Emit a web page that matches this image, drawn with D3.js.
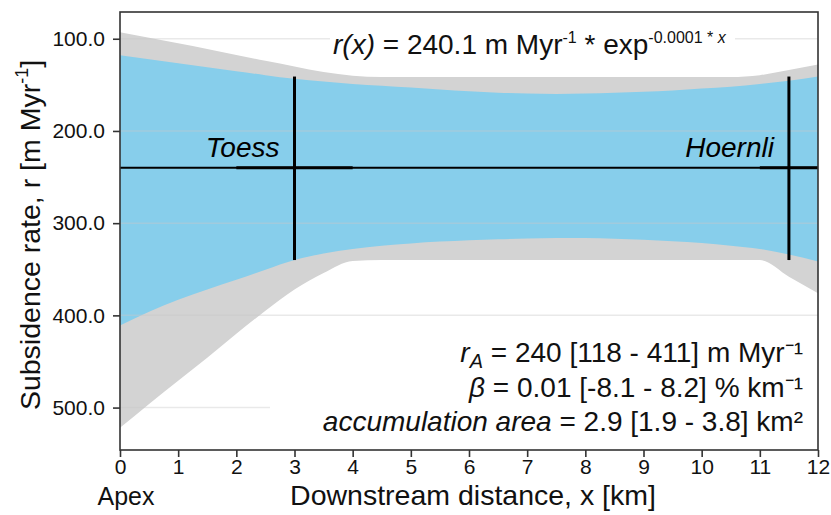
<!DOCTYPE html>
<html>
<head>
<meta charset="utf-8">
<script src="https://cdn.jsdelivr.net/npm/d3@7"></script>
<style>
  html, body { margin: 0; padding: 0; background: #fff; }
  svg { display: block; font-family: "Liberation Sans", Arial, Helvetica, sans-serif; }
</style>
</head>
<body>
<svg id="chart" width="831" height="515"></svg>
<script>
// ---- data ----
const xKm = [0,0.5,1,1.5,2,2.5,3,3.5,4,4.5,5,5.5,6,6.5,7,7.5,8,8.5,9,9.5,10,10.5,11,11.5,12];
const grayUpper = [93,99,105,111,117.5,124,130,136,140,141.5,141.5,141.5,141.5,141.5,141.5,141.5,141.5,141.5,141.5,141.5,141.5,141.5,139.5,134,128];
const grayLower = [522,496,471,446,420,395,372,354,341,340,340,340,340,340,340,340,340,340,340,340,340,340,340,358,376];
const blueUpper = [118,122.3,126.6,131,135.2,139.5,143.5,146.5,149,151,153,155,157,158.5,159.5,160,159.5,158.5,157.5,156,154,152,149,145.5,141];
const blueLower = [411,396,383,372,361.5,350.5,340,333,328,324.5,322,320,318.5,317.5,316.5,316,316,316.8,318,319.5,321.5,324.5,328,334,341.5];
const meanRate = 240;
const siteNames = ["Toess", "Hoernli"];
const siteX = [3, 11.5];
const siteRateLow = [141, 141];
const siteRateHigh = [340, 340];
const siteXLow = [2, 11];
const siteXHigh = [4, 12];
const yTicks = [100, 200, 300, 400, 500];
const xTicks = [0,1,2,3,4,5,6,7,8,9,10,11,12];

// ---- layout ----
const svg = d3.select("#chart");
const L = 120, R = 818, T = 12, B = 450;
const x = d3.scaleLinear().domain([0, 12]).range([L, R]);
const y = d3.scaleLinear().domain([71, 546]).range([T, B]);

const pts = xKm.map((d, i) => ({x: d, gu: grayUpper[i], gl: grayLower[i], bu: blueUpper[i], bl: blueLower[i]}));

svg.append("clipPath").attr("id", "plotclip")
  .append("rect").attr("x", L).attr("y", T).attr("width", R - L).attr("height", B - T);
const plot = svg.append("g").attr("clip-path", "url(#plotclip)");

plot.append("path").datum(pts)
  .attr("fill", "#d3d3d3")
  .attr("d", d3.area().x(d => x(d.x)).y0(d => y(d.gl)).y1(d => y(d.gu)).curve(d3.curveMonotoneX));
plot.append("path").datum(pts)
  .attr("fill", "#87ceeb")
  .attr("d", d3.area().x(d => x(d.x)).y0(d => y(d.bl)).y1(d => y(d.bu)).curve(d3.curveMonotoneX));

// gridlines
plot.append("g").selectAll("line").data(yTicks).join("line")
  .attr("x1", L).attr("x2", R)
  .attr("y1", d => y(d)).attr("y2", d => y(d))
  .attr("stroke", "#c8c8c8").attr("stroke-opacity", 0.4).attr("stroke-width", 1.5);

// white boxes behind annotations
plot.append("rect").attr("x", 330).attr("y", 22).attr("width", 405).attr("height", 40).attr("fill", "#fff");
plot.append("rect").attr("x", 270).attr("y", 328).attr("width", R - 270).attr("height", B - 328).attr("fill", "#fff");

// mean line
plot.append("line").attr("x1", L).attr("x2", R).attr("y1", y(meanRate)).attr("y2", y(meanRate))
  .attr("stroke", "#000").attr("stroke-width", 2);

// site error bars
siteNames.forEach((name, i) => {
  plot.append("line").attr("x1", x(siteXLow[i])).attr("x2", x(siteXHigh[i]))
    .attr("y1", y(meanRate)).attr("y2", y(meanRate))
    .attr("stroke", "#000").attr("stroke-width", 3);
  plot.append("line").attr("x1", x(siteX[i])).attr("x2", x(siteX[i]))
    .attr("y1", y(siteRateLow[i])).attr("y2", y(siteRateHigh[i]))
    .attr("stroke", "#000").attr("stroke-width", 3);
  plot.append("text").attr("x", x(siteX[i]) - 15).attr("y", 157)
    .attr("text-anchor", "end").attr("font-size", 28).attr("font-style", "italic")
    .attr("fill", "#000").text(name);
});

// frame
svg.append("rect").attr("x", L).attr("y", T).attr("width", R - L).attr("height", B - T)
  .attr("fill", "none").attr("stroke", "#333").attr("stroke-width", 1.6);

// axes
const yAxis = svg.append("g").attr("transform", `translate(${L},0)`)
  .call(d3.axisLeft(y).tickValues(yTicks).tickFormat(d3.format(".1f")).tickSize(7).tickPadding(8));
const xAxis = svg.append("g").attr("transform", `translate(0,${B})`)
  .call(d3.axisBottom(x).tickValues(xTicks).tickFormat(d3.format("d")).tickSize(7).tickPadding(2));
[yAxis, xAxis].forEach(g => {
  g.select(".domain").remove();
  g.selectAll(".tick line").attr("stroke", "#333").attr("stroke-width", 1.6);
  g.selectAll(".tick text").attr("font-size", 21).attr("fill", "#111")
    .attr("font-family", '"Liberation Sans", Arial, sans-serif');
});

// axis titles
const yt = svg.append("text").attr("transform", `translate(40,${(T + B) / 2 + 4}) rotate(-90)`)
  .attr("text-anchor", "middle").attr("font-size", 28.5).attr("fill", "#111");
yt.append("tspan").text("Subsidence rate, r [m Myr");
yt.append("tspan").attr("font-size", 18).attr("dy", -12).text("-1");
yt.append("tspan").attr("dy", 12).text("]");

svg.append("text").attr("x", 473).attr("y", 505).attr("text-anchor", "middle")
  .attr("font-size", 28.5).attr("fill", "#111").text("Downstream distance, x [km]");
svg.append("text").attr("x", 126).attr("y", 505).attr("text-anchor", "middle")
  .attr("font-size", 25).attr("fill", "#111").text("Apex");

// top formula
const f = svg.append("text").attr("x", 333).attr("y", 54).attr("font-size", 28).attr("fill", "#111");
f.append("tspan").attr("font-style", "italic").text("r(x)");
f.append("tspan").text(" = 240.1 m Myr");
f.append("tspan").attr("font-size", 16).attr("dy", -11).text("-1");
f.append("tspan").attr("dy", 11).text(" * exp");
f.append("tspan").attr("font-size", 16).attr("dy", -11).text("-0.0001 * ");
f.append("tspan").attr("font-size", 16).attr("font-style", "italic").text("x");

// bottom annotations
const ax = 803;
const a1 = svg.append("text").attr("x", ax).attr("y", 362).attr("text-anchor", "end").attr("font-size", 28).attr("fill", "#111");
a1.append("tspan").attr("font-style", "italic").text("r");
a1.append("tspan").attr("font-style", "italic").attr("font-size", 20).attr("dy", 6).text("A");
a1.append("tspan").attr("dy", -6).text(" = 240 [118 - 411] m Myr\u207B\u00B9");
const a2 = svg.append("text").attr("x", ax).attr("y", 397).attr("text-anchor", "end").attr("font-size", 28).attr("fill", "#111");
a2.append("tspan").attr("font-style", "italic").text("\u03B2");
a2.append("tspan").text(" = 0.01 [-8.1 - 8.2] % km\u207B\u00B9");
const a3 = svg.append("text").attr("x", ax).attr("y", 431).attr("text-anchor", "end").attr("font-size", 28).attr("fill", "#111");
a3.append("tspan").attr("font-style", "italic").text("accumulation area");
a3.append("tspan").text(" = 2.9 [1.9 - 3.8] km\u00B2");
</script>
</body>
</html>
